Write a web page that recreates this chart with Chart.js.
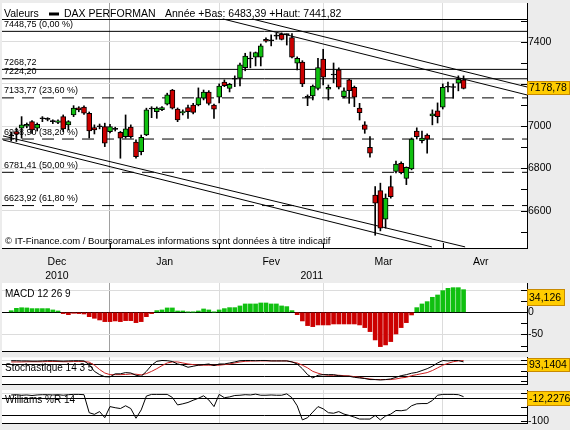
<!DOCTYPE html>
<html>
<head>
<meta charset="utf-8">
<script src="https://cdn.jsdelivr.net/npm/chart.js@4.4.1/dist/chart.umd.min.js"></script>
<style>
html, body { margin: 0; padding: 0; background: #ececec; }
#wrap { position: relative; width: 570px; height: 430px; overflow: hidden; }
canvas { position: absolute; left: 0; }
</style>
</head>
<body>
<div id="wrap">
  <canvas id="main" width="570" height="282" style="top:0px"></canvas>
  <canvas id="macd" width="570" height="73" style="top:280px"></canvas>
  <canvas id="stoch" width="570" height="33" style="top:354px"></canvas>
  <canvas id="will" width="570" height="43" style="top:387px"></canvas>
</div>
<script>
// DAX daily candles, Dec 2010 - Apr 2011 (index = trading day)
const opens = [6954, 6974, 6990, 7000, 7021, 6990, 7035, 7033, 7021, 7018,
  7045, 7006, 7053, 7087, 7090, 7061, 6993, 6998, 6998, 6974,
  6986, 6971, 6950, 6995, 6924, 6879, 6958, 7081, 7069, 7078,
  7104, 7171, 7081, 7063, 7088, 7100, 7100, 7132, 7161, 7100,
  7137, 7208, 7179, 7222, 7227, 7277, 7318, 7326, 7326, 7411,
  7404, 7427, 7435, 7433, 7419, 7298, 7303, 7137, 7143, 7179,
  7317, 7175, 7242, 7266, 7140, 7219, 7184, 7085, 7006, 6900,
  6674, 6695, 6559, 6714, 6785, 6824, 6753, 6797, 6977, 6931,
  6958, 7048, 7072, 7090, 7184, 7184, 7203, 7219];
const highs = [6972, 6991, 7045, 7015, 7026, 7015, 7045, 7040, 7030, 7030,
  7053, 7026, 7097, 7092, 7096, 7067, 7006, 7010, 7014, 7008,
  6995, 6975, 7053, 7006, 6935, 6958, 7085, 7092, 7091, 7092,
  7156, 7174, 7086, 7077, 7100, 7108, 7181, 7171, 7168, 7105,
  7200, 7219, 7203, 7238, 7298, 7345, 7351, 7351, 7389, 7418,
  7432, 7440, 7441.82, 7437, 7438, 7328, 7310, 7148, 7195, 7321,
  7364, 7195, 7299, 7276, 7181, 7222, 7190, 7108, 7021, 6950,
  6714, 6730, 6679, 6764, 6835, 6831, 6807, 6944, 6992, 6977,
  6963, 7077, 7110, 7200, 7209, 7200, 7238, 7238];
const lows = [6930, 6927, 6943, 6992, 6966, 6977, 7021, 7025, 7012, 7012,
  6974, 6982, 7045, 7068, 7055, 6944, 6963, 6987, 6903, 6968,
  6977, 6848, 6943, 6943, 6848, 6864, 6955, 7040, 7037, 7073,
  7100, 7081, 7021, 7053, 7037, 7058, 7096, 7124, 7100, 7036,
  7110, 7187, 7162, 7187, 7190, 7262, 7276, 7285, 7285, 7398,
  7380, 7411, 7408, 7384, 7323, 7266, 7187, 7097, 7124, 7171,
  7195, 7124, 7205, 7176, 7134, 7108, 7092, 7029, 6966, 6853,
  6483.39, 6504, 6517, 6659, 6779, 6774, 6723, 6793, 6939, 6920,
  6872, 7006, 7015, 7081, 7162, 7132, 7167, 7176];
const closes = [6953, 6962, 7006, 7008, 6982, 7009, 7036, 7032, 7022, 7025,
  6987, 7021, 7085, 7077, 7061, 6977, 6982, 6997, 6919, 6998,
  6985, 6943, 6987, 6950, 6856, 6947, 7077, 7082, 7085, 7088,
  7148, 7085, 7029, 7069, 7069, 7065, 7135, 7161, 7108, 7080,
  7190, 7192, 7198, 7224, 7290, 7332, 7319, 7348, 7380, 7402,
  7405, 7426, 7411, 7434, 7326, 7321, 7200, 7136, 7190, 7277,
  7232, 7184, 7243, 7184, 7167, 7168, 7137, 7064, 6985, 6872,
  6635, 6517, 6659, 6666, 6820, 6780, 6805, 6939, 6950, 6943,
  6938, 7058, 7045, 7184, 7185, 7183, 7222, 7178.78];

const macdHist = [3.6, 9, 10.3, 9.8, 8.3, 8.3, 8.3, 8.3, 5.3, 3,
  -3, -5.3, -2.3, -3, -3.8, -9.8, -13.5, -17.3, -21, -21,
  -19.5, -21, -18.8, -18.8, -23.3, -21, -9.8, -3, 3.8, 5.3,
  9.8, 9.8, 3, 3, 0.4, 0.4, 3, 7.5, 5.3, 0.4,
  5.3, 8.3, 10.5, 10.5, 14.3, 18.8, 18.8, 18.8, 21, 21,
  18.8, 18.8, 14.3, 12.8, 3.8, -5.3, -19.5, -30, -32.3, -28.5,
  -28.5, -28.5, -26.3, -26.3, -26.3, -26.3, -26.3, -28.5, -34.5, -43.5,
  -62.3, -77.3, -73.5, -66, -48.8, -34.5, -23.3, -6, 10.5, 18.8,
  24, 33.8, 39, 48.8, 54, 55.5, 55.5, 51];
const macdLast = 34.126;

const stochK = [99, 99, 98, 98, 97, 97, 98, 99, 99, 98,
  97, 98, 99, 99, 98, 80, 47, 31, 21, 20,
  35, 35, 41, 39, 28, 23, 47, 77, 96, 100,
  99, 95, 83, 77, 67, 72, 77, 80, 83, 75,
  83, 83, 88, 93, 99, 100, 100, 99, 100, 100,
  98, 98, 98, 98, 93, 83, 60, 31, 15, 28,
  31, 31, 31, 26, 23, 23, 18, 15, 12, 7,
  7, 5, 7, 10, 18, 26, 31, 38, 42, 51,
  60, 72, 88, 100, 98, 100, 100, 93.1404];
const stochD = [93, 93, 93, 94, 94, 94, 94, 95, 95, 95,
  94, 94, 95, 95, 95, 92, 77, 56, 39, 31,
  31, 31, 32, 34, 33, 30, 36, 47, 60, 75,
  88, 93, 93, 88, 83, 80, 77, 77, 77, 77,
  77, 80, 83, 88, 93, 96, 97, 98, 98, 98,
  98, 98, 98, 98, 93, 88, 77, 64, 47, 38,
  31, 28, 28, 28, 26, 25, 21, 18, 13, 10,
  7, 7, 7, 7, 10, 15, 18, 26, 31, 36,
  41, 51, 64, 77, 86, 94, 98, 100];

const williamsR = [-6, -5, -7, -6, -8, -6, -5, -5, -6, -5,
  -7, -5, -4, -4, -5, -70, -76, -66, -88, -48,
  -52, -55, -45, -55, -90, -60, -10, -4, -4, -4,
  -4, -15, -42, -38, -33, -25, -18, -9, -24, -48,
  -4, -16, -13, -8, -7, -5, -6, -3, -7, -7,
  -6, -7, -7, -2, -16, -45, -96, -88, -68, -48,
  -56, -70, -72, -66, -75, -80, -86, -93, -93, -93,
  -80, -96, -82, -75, -62, -63, -60, -45, -38, -37,
  -37, -26, -7, -4, -4, -4, -5, -12.2276];

// x axis: month starts, labels
const monthStarts = [19, 40, 60, 83];
const newYearDay = 19;
const monthNames = ['Dec', 'Jan', 'Fev', 'Mar', 'Avr'];
const monthMid = [8.8, 29.5, 50, 71.6, 90.3];
const yearNames = ['2010', '2011'];
const yearMid = [8.8, 57.8];

// retracement levels and drawn trend lines
const fibLevels = [7448.75, 7133.77, 6938.90, 6781.41, 6623.92];
const fibPct = [0, 23.6, 38.2, 50, 61.8];
const extraLevels = [7268.72, 7224.20];
const channelLines = [
  [{ x: 46.3, y: 7507.5 }, { x: 99.2, y: 7185.5 }],
  [{ x: 40.7, y: 7507.5 }, { x: 99.2, y: 7147.7 }],
  [{ x: -1.58, y: 6953.6 }, { x: 87.3, y: 6428.1 }],
  [{ x: -1.58, y: 6934.6 }, { x: 80.9, y: 6428.1 }]
];

// y ticks
const priceTicks = [6500, 6600, 6700, 6800, 6900, 7000, 7100, 7200, 7300, 7400, 7500];
const priceGrid = [6600, 6800, 7000, 7200, 7400];
const priceLabels = [6600, 6800, 7000, 7400];
const macdTicks = [-75, -50, -25, 0, 25, 50];
const macdLabels = [-50, 0];
const stochTicks = [0, 20, 50, 80, 100];
const stochMarks = [0, 50, 100];
const willTicks = [-100, -80, -50, -20, 0];
const willMarks = [-100, -50, 0];
const willLabels = [-100];

const FONT = "'Liberation Sans', Arial, sans-serif";
const GREEN = '#10c010';
const RED = '#cc0000';
const xMin = -1.77, xMax = 99.2;

Chart.defaults.font.family = FONT;
Chart.defaults.font.size = 10.5;
Chart.defaults.color = '#000';
Chart.defaults.animation = false;
Chart.defaults.events = [];

const days = opens.map((_, i) => i);
const fr = (v, n) => v.toFixed(n).replace('.', ',');

// keep axes from pushing the plot area around
function fixSize(s, w, h) {
  if (w !== null) s.width = w;
  if (h !== null) s.height = h;
  s.paddingLeft = s.paddingRight = s.paddingTop = s.paddingBottom = 0;
}

function gridX() {
  return {
    type: 'linear', position: 'bottom', min: xMin, max: xMax, offset: false, weight: 0,
    afterBuildTicks: s => { s.ticks = monthStarts.map(v => ({ value: v })); },
    afterFit: s => fixSize(s, null, 0),
    grid: { offset: false, drawTicks: false, color: c => (c.tick && c.tick.value === newYearDay) ? '#a0a0a0' : '#dcdcdc' },
    border: { display: true, color: '#000' },
    ticks: { display: false }
  };
}

function labelX(values, names, weight, height, padding) {
  return {
    type: 'linear', position: 'bottom', min: xMin, max: xMax, offset: false, weight: weight,
    afterBuildTicks: s => { s.ticks = values.map(v => ({ value: v })); },
    afterFit: s => fixSize(s, null, height),
    grid: { display: false, drawTicks: false },
    border: { display: false },
    ticks: { autoSkip: false, maxRotation: 0, padding: padding, callback: (v, i) => names[i] }
  };
}

function yAxis(min, max, ticks, labelled, gridColor) {
  return {
    position: 'right', min: min, max: max,
    afterBuildTicks: s => { s.ticks = ticks.map(v => ({ value: v })); },
    afterFit: s => fixSize(s, 43, null),
    grid: { drawTicks: false, color: c => gridColor(c.tick ? c.tick.value : null) },
    border: { display: true, color: '#000' },
    ticks: { padding: 1, autoSkip: false, callback: v => labelled.includes(v) ? String(v) : '' }
  };
}

function drawBox(chart, value, text, h) {
  const ctx = chart.ctx, a = chart.chartArea;
  ctx.save();
  ctx.font = '10.5px ' + FONT;
  const w = Math.ceil(ctx.measureText(text).width) + 5;
  let top = Math.round(chart.scales.y.getPixelForValue(value) - h / 2);
  top = Math.max(top, Math.round(a.top) + 1);
  top = Math.min(top, Math.round(a.bottom) - h);
  const left = Math.round(a.right);
  ctx.fillStyle = '#ffcc00';
  ctx.fillRect(left, top, w, h);
  ctx.strokeStyle = '#c88a00';
  ctx.lineWidth = 1;
  ctx.strokeRect(left + 0.5, top + 0.5, w - 1, h - 1);
  ctx.fillStyle = '#000';
  ctx.textAlign = 'left';
  ctx.textBaseline = 'middle';
  ctx.fillText(text, left + 2, top + h / 2 + 0.5);
  ctx.restore();
}

function drawMarks(chart, values) {
  const ctx = chart.ctx, a = chart.chartArea, ys = chart.scales.y;
  ctx.save();
  ctx.strokeStyle = '#000';
  ctx.lineWidth = 1;
  ctx.beginPath();
  values.forEach(v => {
    const y = Math.round(ys.getPixelForValue(v)) + 0.5;
    ctx.moveTo(a.right - 6, y);
    ctx.lineTo(a.right, y);
  });
  ctx.stroke();
  ctx.restore();
}

function panelPlugin(opts) {
  return {
    id: 'panel',
    beforeDraw(chart) {
      const a = chart.chartArea, ctx = chart.ctx;
      ctx.save();
      ctx.fillStyle = '#fff';
      ctx.fillRect(a.left, a.top, a.right - a.left, a.bottom - a.top);
      ctx.restore();
    },
    beforeDatasetsDraw(chart) {
      if (opts.before) opts.before(chart);
      if (!opts.title) return;
      const ctx = chart.ctx, a = chart.chartArea;
      ctx.save();
      ctx.font = '10px ' + FONT;
      ctx.fillStyle = '#000';
      ctx.textBaseline = 'middle';
      ctx.fillText(opts.title, a.left + 3, a.top + opts.titleY);
      ctx.restore();
    },
    afterDatasetsDraw(chart) {
      if (opts.after) opts.after(chart);
    },
    afterDraw(chart) {
      drawMarks(chart, opts.marks);
      drawBox(chart, opts.boxValue, opts.boxText, opts.boxH || 14);
    }
  };
}

// ---------- main price panel ----------
const candleColor = i => Math.abs(closes[i] - opens[i]) < 3 ? '#000' : (closes[i] > opens[i] ? GREEN : RED);

const lineSets = [];
fibLevels.forEach((v, i) => lineSets.push({
  type: 'line', data: [{ x: xMin, y: v }, { x: xMax, y: v }],
  borderColor: '#000', borderWidth: 1, borderDash: i === 0 ? [] : [12, 8], pointRadius: 0
}));
extraLevels.forEach(v => lineSets.push({
  type: 'line', data: [{ x: xMin, y: v }, { x: xMax, y: v }],
  borderColor: '#000', borderWidth: 1, pointRadius: 0
}));
channelLines.forEach(pts => lineSets.push({
  type: 'line', data: pts, borderColor: '#000', borderWidth: 1, pointRadius: 0
}));

function mainBefore(chart) {
  const ctx = chart.ctx, a = chart.chartArea, ys = chart.scales.y;
  ctx.save();
  ctx.font = '9px ' + FONT;
  ctx.fillStyle = '#000';
  ctx.textBaseline = 'middle';
  fibLevels.forEach((v, i) => {
    ctx.fillText(fr(v, 2) + ' (' + fr(fibPct[i], 2) + ' %)', a.left + 2, ys.getPixelForValue(v) - 7);
  });
  extraLevels.forEach(v => ctx.fillText(fr(v, 2), a.left + 2, ys.getPixelForValue(v) - 7));
  ctx.restore();
}

function mainAfter(chart) {
  const ctx = chart.ctx, a = chart.chartArea, xs = chart.scales.x;
  ctx.save();
  // header
  ctx.strokeStyle = '#000';
  ctx.lineWidth = 1;
  ctx.beginPath();
  ctx.moveTo(a.left, a.top + 16.5);
  ctx.lineTo(a.right, a.top + 16.5);
  ctx.stroke();
  ctx.font = '10.5px ' + FONT;
  ctx.fillStyle = '#000';
  ctx.textBaseline = 'middle';
  ctx.fillText('Valeurs', a.left + 2, a.top + 11);
  ctx.fillRect(a.left + 47, a.top + 9.5, 10, 3);
  ctx.fillText('DAX PERFORMAN', a.left + 62, a.top + 11);
  ctx.fillText('Année +Bas: ' + fr(Math.min(...lows), 2) + ' +Haut: ' + fr(Math.max(...highs), 2), a.left + 163, a.top + 11);
  // copyright
  ctx.font = '9.5px ' + FONT;
  ctx.fillText('© IT-Finance.com / BoursoramaLes informations sont données à titre indicatif', a.left + 3, a.bottom - 7);
  // month tick marks
  ctx.beginPath();
  monthStarts.forEach(m => {
    const x = Math.round(xs.getPixelForValue(m)) + 0.5;
    ctx.moveTo(x, a.bottom - 5);
    ctx.lineTo(x, a.bottom);
  });
  ctx.stroke();
  ctx.restore();
}

new Chart('main', {
  type: 'bar',
  data: {
    datasets: [
      {
        data: days.map(i => ({ x: i, y: [opens[i], closes[i]] })),
        backgroundColor: c => candleColor(c.dataIndex),
        borderColor: '#000', borderWidth: 1, borderSkipped: false,
        barThickness: 5, minBarLength: 1, grouped: false
      },
      {
        data: days.map(i => ({ x: i, y: [lows[i], highs[i]] })),
        backgroundColor: '#000', borderWidth: 0,
        barThickness: 1, grouped: false
      },
      ...lineSets
    ]
  },
  options: {
    responsive: false,
    layout: { padding: { left: 2, top: 3, right: 0, bottom: 0 } },
    plugins: { legend: { display: false }, tooltip: { enabled: false } },
    scales: {
      x: gridX(),
      xm: labelX(monthMid, monthNames, 1, 18, 8),
      xy: labelX(yearMid, yearNames, 2, 16, 3.5),
      y: yAxis(6423, 7583, priceTicks, priceLabels, v => priceGrid.includes(v) ? '#dcdcdc' : 'rgba(0,0,0,0)')
    }
  },
  plugins: [panelPlugin({
    before: mainBefore, after: mainAfter,
    marks: priceTicks, boxValue: closes[closes.length - 1], boxText: fr(closes[closes.length - 1], 2)
  })]
});

// ---------- MACD ----------
new Chart('macd', {
  type: 'bar',
  data: {
    datasets: [{
      data: days.map(i => ({ x: i, y: macdHist[i] })),
      backgroundColor: c => macdHist[c.dataIndex] >= 0 ? GREEN : RED,
      borderWidth: 0, barThickness: 4
    }]
  },
  options: {
    responsive: false,
    layout: { padding: { left: 2, top: 3, right: 0, bottom: 2 } },
    plugins: { legend: { display: false }, tooltip: { enabled: false } },
    scales: {
      x: gridX(),
      y: yAxis(-87.2, 66, macdTicks, macdLabels, v => v === 0 ? '#000' : (v === 50 || v === -50 ? '#dcdcdc' : 'rgba(0,0,0,0)'))
    }
  },
  plugins: [panelPlugin({ title: 'MACD 12 26 9', titleY: 11, marks: macdTicks, boxValue: macdLast, boxText: fr(macdLast, 3), boxH: 17 })]
});

// ---------- Stochastic ----------
new Chart('stoch', {
  type: 'line',
  data: {
    datasets: [
      { data: days.map(i => ({ x: i, y: stochK[i] })), borderColor: '#000', borderWidth: 1, pointRadius: 0 },
      { data: days.map(i => ({ x: i, y: stochD[i] })), borderColor: '#cc2020', borderWidth: 1, pointRadius: 0 }
    ]
  },
  options: {
    responsive: false,
    layout: { padding: { left: 2, top: 3.3, right: 0, bottom: 2.7 } },
    plugins: { legend: { display: false }, tooltip: { enabled: false } },
    scales: {
      x: gridX(),
      y: yAxis(-16.1, 115.6, stochTicks, [], v => (v === 80 || v === 20) ? '#000' : (v === 100 ? '#dcdcdc' : 'rgba(0,0,0,0)'))
    }
  },
  plugins: [panelPlugin({ title: 'Stochastique 14 3 5', titleY: 10.5, marks: stochMarks, boxValue: stochK[stochK.length - 1], boxText: fr(stochK[stochK.length - 1], 4) })]
});

// ---------- Williams %R ----------
new Chart('will', {
  type: 'line',
  data: {
    datasets: [
      { data: days.map(i => ({ x: i, y: williamsR[i] })), borderColor: '#000', borderWidth: 1, pointRadius: 0 }
    ]
  },
  options: {
    responsive: false,
    layout: { padding: { left: 2, top: 3, right: 0, bottom: 6.5 } },
    plugins: { legend: { display: false }, tooltip: { enabled: false } },
    scales: {
      x: gridX(),
      y: yAxis(-109, 11.9, willTicks, willLabels, v => (v === -20 || v === -80) ? '#000' : (v === 0 ? '#dcdcdc' : 'rgba(0,0,0,0)'))
    }
  },
  plugins: [panelPlugin({ title: 'Williams %R 14', titleY: 10.7, marks: willMarks, boxValue: williamsR[williamsR.length - 1], boxText: fr(williamsR[williamsR.length - 1], 4), boxH: 15 })]
});
</script>
</body>
</html>
